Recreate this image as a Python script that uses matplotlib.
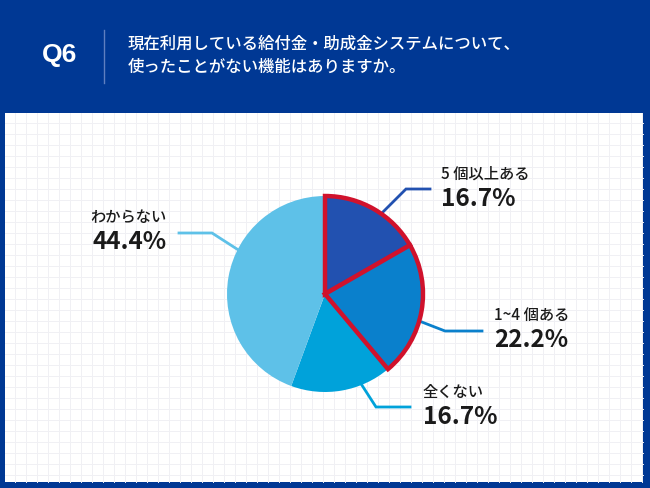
import numpy as np
import matplotlib
matplotlib.use('Agg')
import matplotlib.pyplot as plt

plt.rcParams['font.family'] = ['Noto Sans CJK JP', 'DejaVu Sans']

# data
labels = ['5 個以上ある', '1~4 個ある', '全くない', 'わからない']
values = [16.7, 22.2, 16.7, 44.4]
colors = ['#2251b0', '#0a80cc', '#00a2da', '#5ec1e8']
question = 'Q6'
title_lines = ['現在利用している給付金・助成金システムについて、',
               '使ったことがない機能はありますか。']

W, H = 650, 488
NAVY = '#003894'
RED = '#d0122c'

def Y(y):
    # pixel row -> axes y (origin bottom)
    return H - y

fig = plt.figure(figsize=(6.5, 4.88), dpi=100)
fig.patch.set_facecolor(NAVY)
ax = fig.add_axes([0, 0, 1, 1])

# white panel with grid
ax.add_patch(plt.Rectangle((5, Y(482)), 638, 369, facecolor='white', edgecolor='none', zorder=0))
for gx in np.arange(15, 643, 11):
    ax.plot([gx, gx], [Y(482), Y(113)], color='#f0f0f4', lw=0.7, zorder=0.5)
for gy in np.arange(123, 482, 11):
    ax.plot([5, 643], [Y(gy), Y(gy)], color='#f0f0f4', lw=0.7, zorder=0.5)

# header
ax.text(60, Y(55), question, color='white', fontsize=19, fontweight='bold',
        family=['Liberation Sans', 'DejaVu Sans'], ha='center', va='center')
ax.plot([104, 104], [Y(30), Y(83)], color='#5f7fc0', lw=1)
ax.text(128, Y(44), title_lines[0], color='white', fontsize=11.8, fontweight='medium', va='center')
ax.text(128, Y(67), title_lines[1], color='white', fontsize=11.8, fontweight='medium', va='center')

# pie
cx, cy, r = 325, 294, 98
wedges, _ = ax.pie(values, colors=colors, startangle=90, counterclock=False,
                   center=(cx, Y(cy)), radius=r, wedgeprops=dict(linewidth=0))
for w in wedges[:2]:
    w.set_edgecolor(RED)
    w.set_linewidth(3.2)
    w.set_joinstyle('miter')
    w.set_zorder(3)

# leader lines: (anchor angle on rim, elbow point, end point), label position, align
leaders = [
    (55, (406, 189), (430, 189), (441, 174), 'left'),
    (-16, (445, 331), (482, 331), (494, 315), 'left'),
    (-68, (376, 407), (410, 407), (423, 392), 'left'),
    (153, (212, 233), (179, 233), (167, 217), 'right'),
]
for (ang, elbow, end, lab, ha), name, val, c in zip(leaders, labels, values, colors):
    sx = cx + r * np.cos(np.radians(ang))
    sy = cy - r * np.sin(np.radians(ang))
    ax.plot([sx, elbow[0], end[0]], [Y(sy), Y(elbow[1]), Y(end[1])],
            color=c, lw=2, zorder=2, solid_joinstyle='miter')
    ax.text(lab[0], Y(lab[1]), name, fontsize=11, fontweight='medium', color='#1a1a1a',
            ha=ha, va='center')
    ax.text(lab[0], Y(lab[1] + 25), '{:.1f}%'.format(val), fontsize=17.5,
            fontweight='bold', color='#1a1a1a', ha=ha, va='center')

ax.set_xlim(0, W)
ax.set_ylim(0, H)
ax.set_aspect('auto')
ax.axis('off')

fig.savefig('out.png', dpi=100, facecolor=NAVY)
